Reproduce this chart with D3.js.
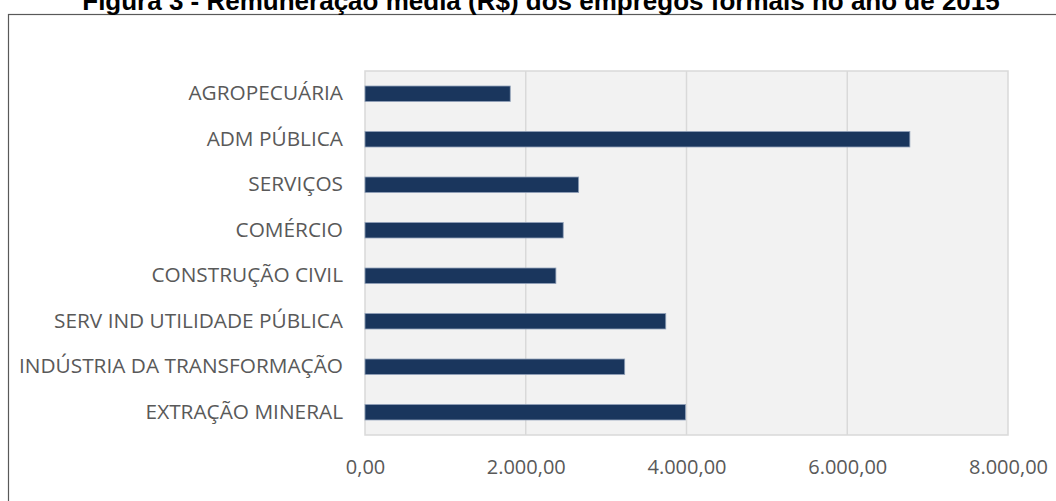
<!DOCTYPE html>
<html>
<head>
<meta charset="utf-8">
<script src="https://cdn.jsdelivr.net/npm/d3@7"></script>
<style>
	html, body { margin: 0; padding: 0; background: #ffffff; }
	#chart { width: 1056px; height: 501px; }
</style>
</head>
<body>
<div id="chart"></div>
<script>
// Chart data, top to bottom as in the figure
var title = "Figura 3 - Remuneração média (R$) dos empregos formais no ano de 2015";
var sectors = [
	"AGROPECUÁRIA",
	"ADM PÚBLICA",
	"SERVIÇOS",
	"COMÉRCIO",
	"CONSTRUÇÃO CIVIL",
	"SERV IND UTILIDADE PÚBLICA",
	"INDÚSTRIA DA TRANSFORMAÇÃO",
	"EXTRAÇÃO MINERAL"
];
var wages = [1807, 6779, 2658, 2466, 2375, 3742, 3231, 3988];
var xTicks = [0, 2000, 4000, 6000, 8000];

var BarChart = function(config){
	// Set defaults
	this.targetId = null;
	this.margin = {top: 71, right: 48, bottom: 66, left: 365};

	// Load in config
	Object.keys(config).forEach(key => this[key] = config[key]);

	this.setupSVG();
	this.setupScales();
	this.drawFrame();
	this.setupAxes();
	this.plot();
}

BarChart.prototype.setupSVG = function(){
	this.width = 1056;
	this.height = 501;
	this.chartWidth = this.width - this.margin.left - this.margin.right;
	this.chartHeight = this.height - this.margin.top - this.margin.bottom;

	this.svg = d3.select("#"+this.targetId)
		.append('svg')
		.attr("width", this.width)
		.attr("height", this.height);

	this.g = this.svg.append('g')
		.attr('transform', `translate(${this.margin.left}, ${this.margin.top})`);
}

BarChart.prototype.setupScales = function(){
	this.x = d3.scaleLinear()
		.domain([0, 8000])
		.range([0, this.chartWidth]);

	this.y = d3.scaleBand()
		.domain(sectors)
		.range([0, this.chartHeight])
		.paddingInner(0.66)
		.paddingOuter(0.33);
}

/**
Outer border of the figure (runs off the right and bottom edge) and the title,
which sits half above the page top like in the source figure
*/
BarChart.prototype.drawFrame = function(){
	this.svg.append('rect')
		.attr('x', 8.5)
		.attr('y', 14.5)
		.attr('width', 1200)
		.attr('height', 700)
		.attr('fill', 'none')
		.attr('stroke', '#595959')
		.attr('stroke-width', 1.2);

	this.svg.append('text')
		.attr('x', 541)
		.attr('y', 10)
		.attr('text-anchor', 'middle')
		.style('font-family', '"Liberation Sans", Arial, sans-serif')
		.style('font-weight', 'bold')
		.style('font-size', '26px')
		.style('fill', '#000000')
		.text(title);

	// plot area background
	this.g.append('rect')
		.attr('x', 0)
		.attr('y', 0)
		.attr('width', this.chartWidth)
		.attr('height', this.chartHeight)
		.attr('fill', '#f2f2f2')
		.attr('stroke', '#d9d9d9')
		.attr('stroke-width', 1.5);
}

BarChart.prototype.setupAxes = function(){
	let font = '"Open Sans", sans-serif';
	let fmt = d3.formatLocale({decimal: ",", thousands: ".", grouping: [3], currency: ["R$", ""]}).format(",.2f");

	// vertical gridlines
	this.g.append('g')
		.selectAll('line')
		.data(xTicks.slice(1, -1))
		.join('line')
		.attr('x1', d => this.x(d))
		.attr('x2', d => this.x(d))
		.attr('y1', 0)
		.attr('y2', this.chartHeight)
		.attr('stroke', '#d9d9d9')
		.attr('stroke-width', 1.5);

	this.xAxis = d3.axisBottom(this.x)
		.tickValues(xTicks)
		.tickFormat(fmt)
		.tickSize(0)
		.tickPadding(25);

	this.xAxisG = this.g.append('g')
		.attr('transform', `translate(0, ${this.chartHeight})`)
		.call(this.xAxis);

	this.yAxis = d3.axisLeft(this.y)
		.tickSize(0)
		.tickPadding(22);

	this.yAxisG = this.g.append('g')
		.call(this.yAxis);

	[this.xAxisG, this.yAxisG].forEach(a => {
		a.select('.domain').remove();
		a.selectAll('text')
			.style('font-family', font)
			.style('fill', '#595959');
	});
	this.xAxisG.selectAll('text').style('font-size', '20px');
	this.yAxisG.selectAll('text').style('font-size', '20.8px');
}

BarChart.prototype.plot = function(){
	this.g.selectAll('.bar')
		.data(wages)
		.join('rect')
		.attr('class', 'bar')
		.attr('x', this.x(0))
		.attr('y', (d, i) => this.y(sectors[i]))
		.attr('width', d => this.x(d) - this.x(0))
		.attr('height', this.y.bandwidth())
		.attr('fill', '#1a365d')
		.attr('stroke', '#8fa0b8')
		.attr('stroke-width', 0.8);
}

new BarChart({targetId: 'chart'});
</script>
</body>
</html>
